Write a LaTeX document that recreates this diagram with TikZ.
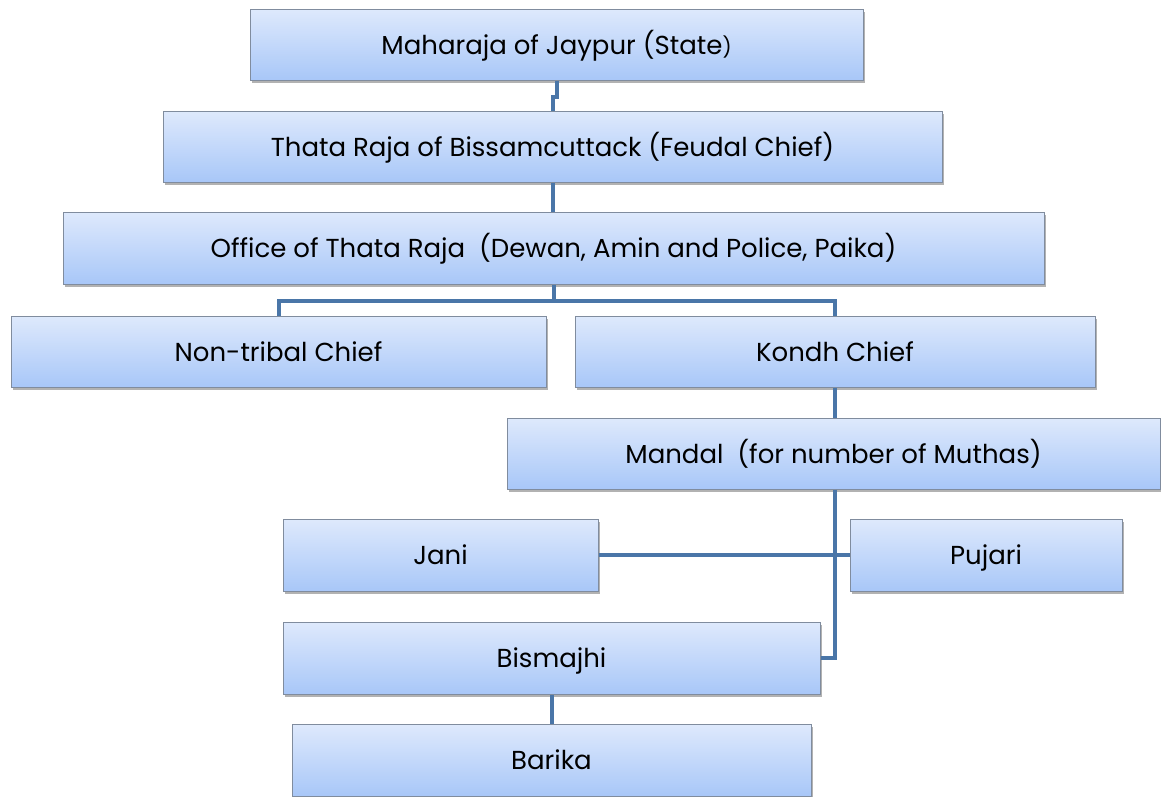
\documentclass[tikz,border=0pt]{standalone}
\usepackage{fontspec}
\setmainfont{Poppins}
\usetikzlibrary{shadows}
\definecolor{linec}{RGB}{74,118,168}
\definecolor{boxtop}{RGB}{222,233,252}
\definecolor{boxbot}{RGB}{168,199,248}
\definecolor{boxedge}{RGB}{128,140,158}
\tikzset{
  orgbox/.style={rectangle, draw=boxedge, line width=1pt, top color=boxtop, bottom color=boxbot,
    drop shadow={shadow xshift=1.5pt, shadow yshift=-3pt, opacity=0.3, fill=black},
    inner sep=0pt, text height=21pt, text depth=2pt, font=\fontsize{26}{31}\selectfont, text=black},
  conn/.style={draw=linec, line width=4pt}
}
\begin{document}
\begin{tikzpicture}[x=1pt,y=-1pt]
\useasboundingbox (0,0) rectangle (1161,796);
\node[orgbox, minimum width=613pt, minimum height=71pt] (m) at (556.5,44.5) {Maharaja of Jaypur (State{\fontsize{20}{24}\selectfont)}};
\node[orgbox, minimum width=779pt, minimum height=71pt] (t) at (552.5,146.5) {Thata Raja of Bissamcuttack (Feudal Chief)};
\node[orgbox, minimum width=981pt, minimum height=72pt] (o) at (553.5,248) {Office of Thata Raja\ \ (Dewan, Amin and Police, Paika)};
\node[orgbox, minimum width=535pt, minimum height=71pt] (n) at (278.5,351.5) {Non-tribal Chief};
\node[orgbox, minimum width=520pt, minimum height=71pt] (k) at (835,351.5) {Kondh Chief};
\node[orgbox, minimum width=653pt, minimum height=71pt] (md) at (833.5,453.5) {Mandal\ \ (for number of Muthas)};
\node[orgbox, minimum width=315pt, minimum height=72pt] (j) at (440.5,555) {Jani};
\node[orgbox, minimum width=272pt, minimum height=72pt] (p) at (986,555) {Pujari};
\node[orgbox, minimum width=537pt, minimum height=72pt] (b) at (551.5,658) {Bismajhi};
\node[orgbox, minimum width=519pt, minimum height=72pt] (ba) at (551.5,760) {Barika};
\draw[conn] (m.south) -- ++(0,16) -| (t.north);
\draw[conn] (t.south) -- (t.south |- o.north);
\draw[conn] (o.south) -- ++(0,16) -| (n.north);
\draw[conn] (o.south) ++(0,16) -| (k.north);
\draw[conn] (k.south) -- (k.south |- md.north);
\draw[conn] (k.south |- md.south) |- (b.east);
\draw[conn] (j.east) -- (p.west);
\draw[conn] (b.south) -- (b.south |- ba.north);
\end{tikzpicture}
\end{document}
